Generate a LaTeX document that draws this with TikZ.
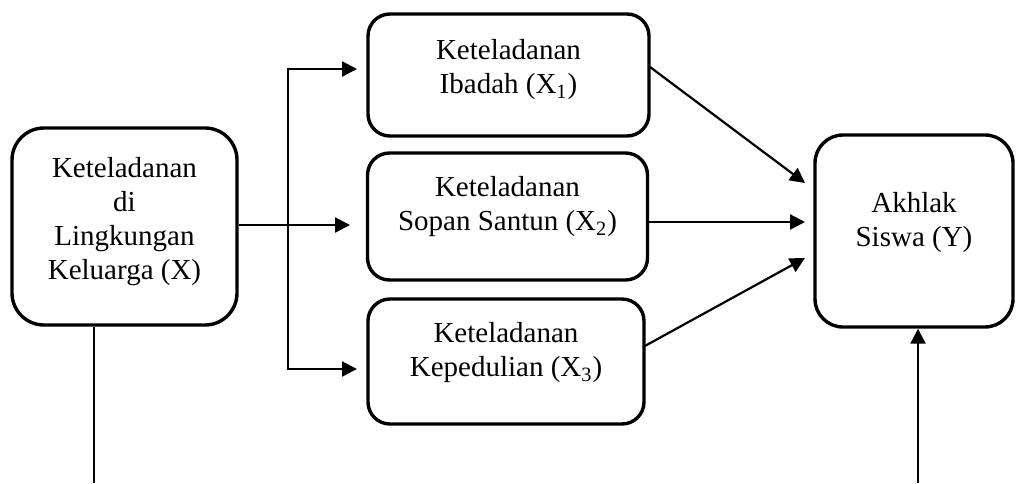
\documentclass[tikz,border=0pt]{standalone}
\usepackage{fontspec}
\setmainfont{Liberation Serif}
\usetikzlibrary{arrows.meta,calc}
\begin{document}
\begin{tikzpicture}[x=0.5pt,y=-0.5pt,
  boxstyle/.style={draw,line width=1.7pt,inner sep=0pt},
  txt/.style={align=center,font=\fontsize{14.5pt}{17pt}\selectfont,inner sep=0pt},
  arr/.style={line width=1.1pt,-{Triangle[length=7.5pt,width=7.5pt]}},
  ln/.style={line width=1.1pt}]
\useasboundingbox (0,0) rectangle (1016,483);
% boxes
\node[boxstyle,rounded corners=16pt,minimum width=112.5pt,minimum height=98.5pt] (L) at (124.5,226.5) {};
\node[boxstyle,rounded corners=11pt,minimum width=140.5pt,minimum height=61pt] (T) at (508.5,75) {};
\node[boxstyle,rounded corners=11pt,minimum width=140pt,minimum height=63.5pt] (M) at (507.5,216.5) {};
\node[boxstyle,rounded corners=11pt,minimum width=138pt,minimum height=62.5pt] (B) at (506,361.5) {};
\node[boxstyle,rounded corners=14pt,minimum width=99pt,minimum height=96pt] (Y) at (914,231) {};
% texts
\node[txt] (Lt) at (124.5,222) {Keteladanan\\di\\Lingkungan\\Keluarga (X)};
\node[txt] (Tt) at (508.5,70) {Keteladanan\\Ibadah (X\textsubscript{1})};
\node[txt] (Mt) at (507.5,207) {Keteladanan\\Sopan Santun (X\textsubscript{2})};
\node[txt] (Bt) at (506,353) {Keteladanan\\Kepedulian (X\textsubscript{3})};
\node[txt] (Yt) at (914,223) {Akhlak\\Siswa (Y)};
% connectors
\coordinate (j) at (288,225);
\coordinate (t1) at (357,69);
\coordinate (b1) at (357,369);
\coordinate (m1) at (350,225);
\draw[arr] (L.east |- j) -- (m1);
\draw[arr] (j) |- (t1);
\draw[arr] (j) |- (b1);
\coordinate (ts) at (650,67);
\coordinate (te) at (805,183);
\coordinate (ms) at (647,222);
\coordinate (me) at (805,222);
\coordinate (bs) at (643,347);
\coordinate (be) at (805,258);
\draw[arr] (ts) -- (te);
\draw[arr] (ms) -- (me);
\draw[arr] (bs) -- (be);
\coordinate (ld) at (94,483);
\coordinate (yu) at (918,483);
\draw[ln] (L.south -| ld) -- (ld);
\draw[arr] (yu) -- (Y.south -| yu);
\end{tikzpicture}
\end{document}
